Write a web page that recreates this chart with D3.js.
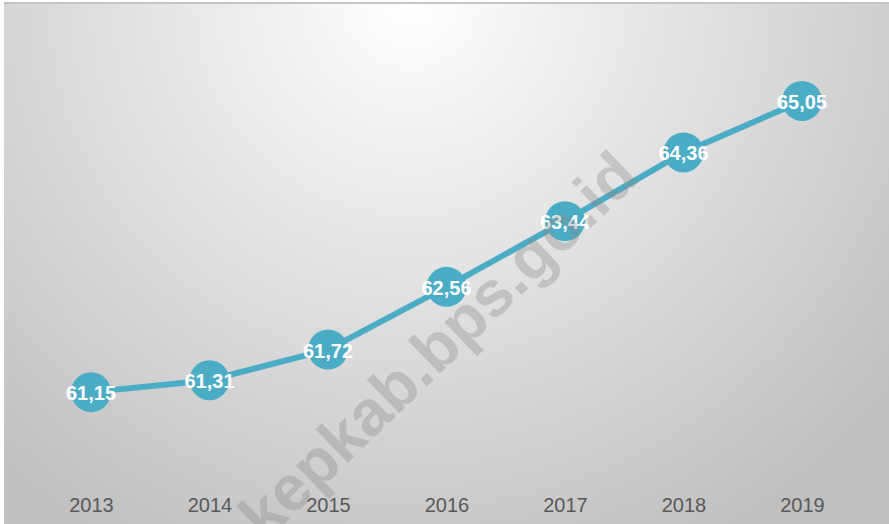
<!DOCTYPE html>
<html lang="id">
<head>
<meta charset="utf-8">
<title>Chart</title>
<style>
  html, body { margin: 0; padding: 0; background: #fff; }
  svg { display: block; }
</style>
</head>
<body>
<svg width="889" height="524"></svg>
<script src="https://cdn.jsdelivr.net/npm/d3@7"></script>
<script>
const years = ["2013", "2014", "2015", "2016", "2017", "2018", "2019"];
const values = [61.15, 61.31, 61.72, 62.56, 63.44, 64.36, 65.05];
const valueLabels = ["61,15", "61,31", "61,72", "62,56", "63,44", "64,36", "65,05"];

const width = 889, height = 524,
      svg = d3.select("svg");

const x = d3.scalePoint().domain(years).range([91, 802]),
      y = d3.scaleLinear().domain([60, 66]).range([478, 30]);

// background gradient
const defs = svg.append("defs");
const grad = defs.append("radialGradient")
    .attr("id", "bg")
    .attr("gradientUnits", "userSpaceOnUse")
    .attr("cx", 410).attr("cy", 0).attr("r", 620);
grad.append("stop").attr("offset", "0").attr("stop-color", "#ffffff");
grad.append("stop").attr("offset", "1").attr("stop-color", "#c0c0c0");

svg.append("rect")
    .attr("x", 4).attr("y", 3)
    .attr("width", width - 4).attr("height", height - 3)
    .attr("fill", "url(#bg)");
svg.append("line")
    .attr("x1", 4).attr("x2", width)
    .attr("y1", 3).attr("y2", 3)
    .attr("stroke", "#c4c4c4").attr("stroke-width", 2);

const pts = years.map((yr, i) => ({yr, v: values[i], lab: valueLabels[i]}));

// x axis labels (no axis line)
const xAxis = d3.axisBottom(x).tickSize(0).tickPadding(0);
const gx = svg.append("g").attr("transform", "translate(0,498)").call(xAxis);
gx.select(".domain").remove();
gx.selectAll("text")
    .attr("fill", "#595959")
    .style("font-family", "'Liberation Sans', Arial, sans-serif")
    .style("font-size", "20px");

// line
svg.append("path")
    .datum(pts)
    .attr("fill", "none")
    .attr("stroke", "#4bacc6")
    .attr("stroke-width", 6)
    .attr("stroke-linejoin", "round")
    .attr("d", d3.line().x(d => x(d.yr)).y(d => y(d.v)));

svg.selectAll("circle.pt")
  .data(pts)
  .enter().append("circle")
    .attr("class", "pt")
    .attr("cx", d => x(d.yr))
    .attr("cy", d => y(d.v))
    .attr("r", 20)
    .attr("fill", "#4bacc6");

svg.selectAll("text.lab")
  .data(pts)
  .enter().append("text")
    .attr("class", "lab")
    .attr("x", d => x(d.yr))
    .attr("y", d => y(d.v) + 1)
    .attr("text-anchor", "middle")
    .attr("dominant-baseline", "central")
    .style("font-family", "'Liberation Sans', Arial, sans-serif")
    .style("font-weight", 700)
    .style("font-size", "20px")
    .attr("fill", "#ffffff")
    .text(d => d.lab);

// watermark
svg.append("text")
    .attr("transform", "translate(438,345) rotate(-44)")
    .attr("text-anchor", "middle")
    .attr("dominant-baseline", "central")
    .style("font-family", "'Liberation Sans', Arial, sans-serif")
    .style("font-weight", 700)
    .style("font-size", "64px")
    .attr("fill", "#8a8a8a")
    .attr("fill-opacity", 0.35)
    .text("kepkab.bps.go.id");
</script>
</body>
</html>
